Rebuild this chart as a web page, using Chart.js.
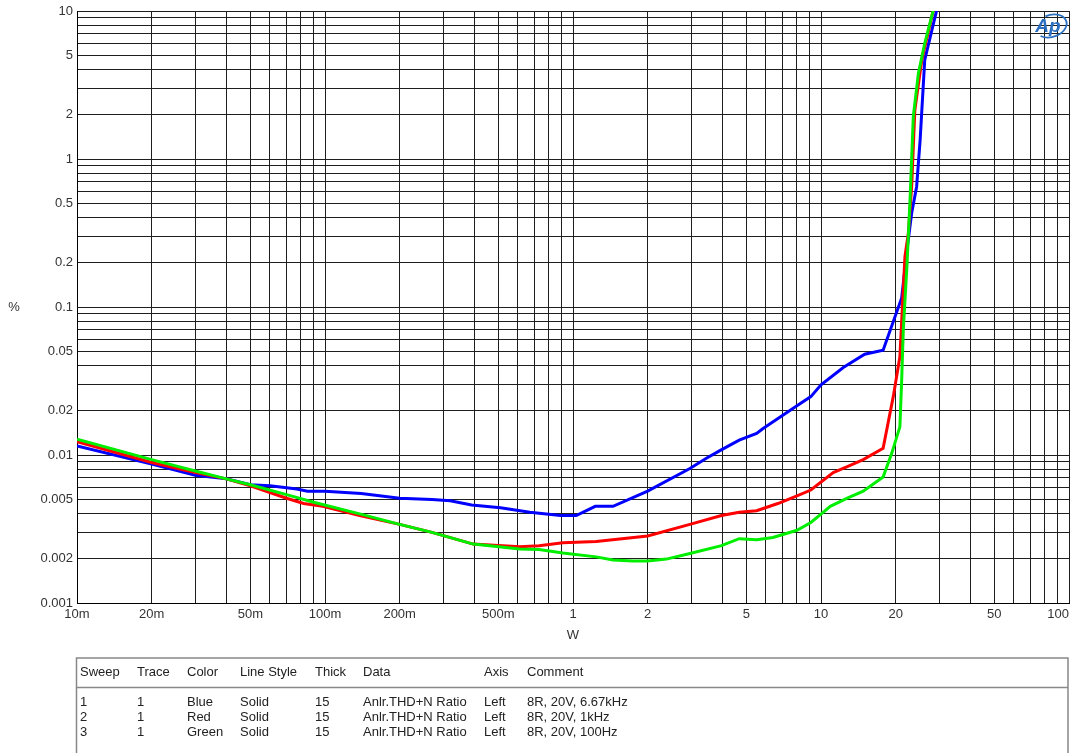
<!DOCTYPE html>
<html>
<head>
<meta charset="utf-8">
<script src="https://cdn.jsdelivr.net/npm/chart.js@4.4.0/dist/chart.umd.min.js"></script>
<style>
  html, body { margin: 0; padding: 0; background: #fff; }
  #wrap { width: 1075px; height: 753px; position: relative; }
</style>
</head>
<body>
<div id="wrap"><canvas id="c" width="1075" height="753"></canvas></div>
<script>
// THD+N ratio (%) against output power (W), three sweeps into 8 ohm
const blueW = [0.01, 0.02, 0.03, 0.04, 0.05, 0.06, 0.077, 0.085, 0.1, 0.14, 0.2, 0.27, 0.32, 0.39, 0.51, 0.67, 0.89, 1.03, 1.23, 1.45, 2.0, 2.96, 3.45, 3.91, 4.68, 5.5, 5.84, 8.0, 9.1, 10.0, 12.3, 15.0, 17.8, 21.15, 22.2, 23.2, 24.3, 25.1, 26.2, 29.3];
const bluePct = [0.0115, 0.0087, 0.0073, 0.0069, 0.0063, 0.0062, 0.0059, 0.0057, 0.0057, 0.0055, 0.0051, 0.0050, 0.0049, 0.0046, 0.0044, 0.0041, 0.0039, 0.0039, 0.0045, 0.0045, 0.0057, 0.0081, 0.0095, 0.0107, 0.0126, 0.0140, 0.0151, 0.0215, 0.0248, 0.0298, 0.039, 0.048, 0.051, 0.115, 0.24, 0.43, 0.65, 1.34, 4.67, 10.2];

const redW = [0.01, 0.02, 0.03, 0.04, 0.05, 0.07, 0.082, 0.098, 0.138, 0.2, 0.27, 0.396, 0.61, 0.73, 0.91, 1.24, 2.0, 2.96, 3.97, 4.68, 5.5, 6.7, 8.0, 9.1, 11.2, 12.7, 14.8, 17.8, 19.56, 20.8, 21.8, 22.5, 23.2, 23.9, 25.5, 28.4];
const redPct = [0.0123, 0.0089, 0.0076, 0.0069, 0.0062, 0.0051, 0.0047, 0.0045, 0.0039, 0.0034, 0.0030, 0.0025, 0.0024, 0.00244, 0.00255, 0.0026, 0.00284, 0.0034, 0.0039, 0.0041, 0.0042, 0.0047, 0.0053, 0.0058, 0.0076, 0.0083, 0.0093, 0.0111, 0.0248, 0.0461, 0.219, 0.315, 0.65, 2.14, 4.67, 10.2];

const greenW = [0.01, 0.02, 0.03, 0.04, 0.05, 0.07, 0.09, 0.138, 0.2, 0.27, 0.396, 0.61, 0.73, 0.91, 1.24, 1.45, 1.75, 2.0, 2.38, 2.96, 3.97, 4.68, 5.5, 6.4, 8.0, 9.1, 10.2, 10.9, 12.7, 14.8, 17.8, 19.3, 20.8, 21.15, 21.47, 22.2, 22.85, 23.56, 24.7, 26.2, 28.4];
const greenPct = [0.0128, 0.0093, 0.0078, 0.0069, 0.0063, 0.0054, 0.0048, 0.0040, 0.0034, 0.0030, 0.0025, 0.00232, 0.0023, 0.00218, 0.00205, 0.00195, 0.00192, 0.00192, 0.00198, 0.00216, 0.00244, 0.00272, 0.00268, 0.00277, 0.0031, 0.0035, 0.0041, 0.0045, 0.0051, 0.0057, 0.0071, 0.0103, 0.0155, 0.032, 0.070, 0.187, 0.528, 1.93, 3.79, 6.05, 10.2];

// Labelled ticks
const xTickValues = [0.01, 0.02, 0.05, 0.1, 0.2, 0.5, 1, 2, 5, 10, 20, 50, 100];
const xTickLabels = ['10m', '20m', '50m', '100m', '200m', '500m', '1', '2', '5', '10', '20', '50', '100'];
const yTickValues = [10, 5, 2, 1, 0.5, 0.2, 0.1, 0.05, 0.02, 0.01, 0.005, 0.002, 0.001];
const yTickLabels = ['10', '5', '2', '1', '0.5', '0.2', '0.1', '0.05', '0.02', '0.01', '0.005', '0.002', '0.001'];

const xTitle = 'W';
const yTitle = '%';

// Sweep legend table
const tableHeader = ['Sweep', 'Trace', 'Color', 'Line Style', 'Thick', 'Data', 'Axis', 'Comment'];
const tableRows = [
  ['1', '1', 'Blue', 'Solid', '15', 'Anlr.THD+N Ratio', 'Left', '8R, 20V, 6.67kHz'],
  ['2', '1', 'Red', 'Solid', '15', 'Anlr.THD+N Ratio', 'Left', '8R, 20V, 1kHz'],
  ['3', '1', 'Green', 'Solid', '15', 'Anlr.THD+N Ratio', 'Left', '8R, 20V, 100Hz']
];

const FONT = '"Liberation Sans", Arial, Helvetica, sans-serif';

function pts(xs, ys) { return xs.map((v, i) => ({ x: v, y: ys[i] })); }

// 1..9 x 10^n grid ticks across the decades of an axis
function decadeTicks(lo, hi) {
  const out = [];
  for (let e = lo; e < hi; e++) {
    for (let m = 1; m <= 9; m++) out.push({ value: +(m * Math.pow(10, e)).toPrecision(6) });
  }
  out.push({ value: Math.pow(10, hi) });
  return out;
}

const textPlugin = {
  id: 'apText',
  afterDraw(chart) {
    const { ctx, chartArea } = chart;
    const xs = chart.scales.x, ys = chart.scales.y;
    ctx.save();
    ctx.fillStyle = '#333';
    ctx.font = '13px ' + FONT;
    ctx.textBaseline = 'middle';

    xTickValues.forEach((v, i) => {
      const last = i === xTickValues.length - 1;
      ctx.textAlign = last ? 'right' : 'center';
      ctx.fillText(xTickLabels[i], last ? chartArea.right : xs.getPixelForValue(v), 614);
    });
    ctx.textAlign = 'right';
    yTickValues.forEach((v, i) => {
      ctx.fillText(yTickLabels[i], 73, ys.getPixelForValue(v));
    });

    ctx.textAlign = 'center';
    ctx.fillText(xTitle, (chartArea.left + chartArea.right) / 2, 635);
    ctx.fillText(yTitle, 14, (chartArea.top + chartArea.bottom) / 2);

    // table frame
    ctx.strokeStyle = '#888';
    ctx.lineWidth = 1.5;
    ctx.beginPath();
    ctx.moveTo(76.5, 760); ctx.lineTo(76.5, 658); ctx.lineTo(1068, 658); ctx.lineTo(1068, 760);
    ctx.moveTo(76.5, 687.5); ctx.lineTo(1068, 687.5);
    ctx.stroke();

    const colX = [80, 137, 187, 240, 315, 363, 484, 527];
    ctx.fillStyle = '#222';
    ctx.textAlign = 'left';
    tableHeader.forEach((t, i) => ctx.fillText(t, colX[i], 672));
    tableRows.forEach((row, r) => {
      row.forEach((t, i) => ctx.fillText(t, colX[i], 702 + r * 15));
    });

    // AP badge
    ctx.strokeStyle = '#2a6fc0';
    ctx.fillStyle = '#2a6fc0';
    ctx.lineWidth = 1.8;
    ctx.beginPath();
    ctx.ellipse(1051, 26, 16, 11, -0.3, -0.55 * Math.PI, 0.8 * Math.PI);
    ctx.stroke();
    ctx.font = 'italic bold 19px ' + FONT;
    ctx.textAlign = 'center';
    ctx.fillText('Ap', 1048, 27);
    ctx.restore();
  }
};

const line = (label, data, color, order) => ({
  label, data, borderColor: color, backgroundColor: color,
  borderWidth: 3, pointRadius: 0, tension: 0, fill: false, order, clip: 0
});

new Chart(document.getElementById('c'), {
  type: 'line',
  data: {
    datasets: [
      line('8R, 20V, 6.67kHz', pts(blueW, bluePct), '#0000ff', 2),
      line('8R, 20V, 1kHz', pts(redW, redPct), '#ff0000', 1),
      line('8R, 20V, 100Hz', pts(greenW, greenPct), '#00ee00', 0)
    ]
  },
  options: {
    responsive: false,
    animation: false,
    devicePixelRatio: 1,
    layout: { padding: { top: 11, right: 6, bottom: 0, left: 0 } },
    plugins: { legend: { display: false }, tooltip: { enabled: false } },
    scales: {
      x: {
        type: 'logarithmic', min: 0.01, max: 100,
        afterBuildTicks: s => { s.ticks = decadeTicks(-2, 2); },
        afterFit: s => { s.height = 150; },
        ticks: { display: false },
        grid: { color: '#1e1e1e', lineWidth: 1, drawTicks: false },
        border: { display: true, color: '#000', width: 1 }
      },
      y: {
        type: 'logarithmic', min: 0.001, max: 10,
        afterBuildTicks: s => { s.ticks = decadeTicks(-3, 1); },
        afterFit: s => { s.width = 77; },
        ticks: { display: false },
        grid: { color: '#1e1e1e', lineWidth: 1, drawTicks: false },
        border: { display: true, color: '#000', width: 1 }
      }
    }
  },
  plugins: [textPlugin]
});
</script>
</body>
</html>
